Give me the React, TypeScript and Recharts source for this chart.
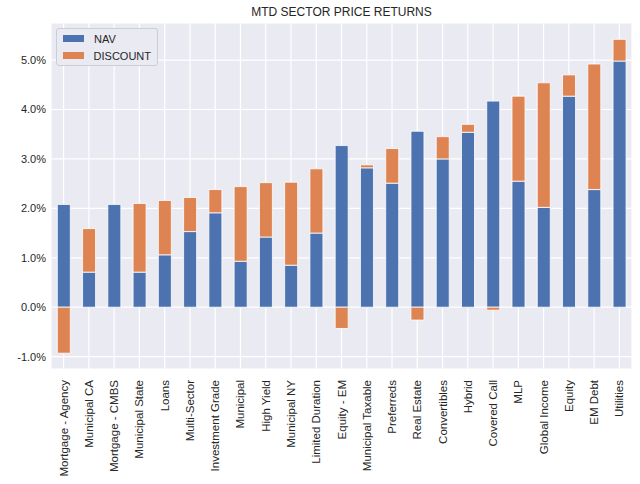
import { Bar, BarChart, CartesianGrid, XAxis, YAxis } from "recharts";

const sectors = [
  "Mortgage - Agency", "Municipal CA", "Mortgage - CMBS", "Municipal State", "Loans",
  "Multi-Sector", "Investment Grade", "Municipal", "High Yield", "Municipal NY",
  "Limited Duration", "Equity - EM", "Municipal Taxable", "Preferreds", "Real Estate",
  "Convertibles", "Hybrid", "Covered Call", "MLP", "Global Income", "Equity", "EM Debt", "Utilities",
];
const nav = [2.08, 0.71, 2.08, 0.71, 1.06, 1.53, 1.91, 0.93, 1.42, 0.85, 1.5, 3.27, 2.82, 2.51, 3.56, 3.0, 3.54, 4.17, 2.55, 2.02, 4.27, 2.38, 4.98];
const discount = [-0.93, 0.88, 0, 1.39, 1.1, 0.69, 0.47, 1.51, 1.1, 1.68, 1.3, -0.43, 0.06, 0.7, -0.26, 0.45, 0.16, -0.06, 1.72, 2.52, 0.43, 2.54, 0.44];
const yTicks = [-1, 0, 1, 2, 3, 4, 5];

const data = sectors.map((s, i) => ({ sector: s, nav: nav[i], discount: discount[i] }));

const BLUE = "#4C72B0";
const ORANGE = "#DD8452";
const TEXT = "#262626";

function SectorTick({ x, y, payload }: any) {
  return (
    <text transform={`translate(${x},${y}) rotate(-90)`} textAnchor="end" dy="0.35em" fontSize={11.5} fill={TEXT}>
      {payload.value}
    </text>
  );
}

// drawn over the plot, matplotlib-style "upper left" legend
function LegendBox() {
  const rows = [
    { name: "NAV", color: BLUE },
    { name: "DISCOUNT", color: ORANGE },
  ];
  return (
    <div style={{ position: "absolute", left: 56, top: 28, background: "#EAEAF2", border: "1px solid #CDCDD6", borderRadius: 3, padding: "1px 6px 1px 6px", width: 88 }}>
      {rows.map((r) => (
        <div key={r.name} style={{ display: "flex", alignItems: "center", height: 17, fontSize: 11, color: TEXT }}>
          <span style={{ display: "inline-block", width: 21, height: 7, background: r.color, marginRight: 10 }} />
          {r.name}
        </div>
      ))}
    </div>
  );
}

export default function App() {
  return (
    <div style={{ position: "absolute", left: 0, top: 0, width: 640, height: 484, background: "#fff", fontFamily: '"Liberation Sans", Arial, sans-serif' }}>
      <div style={{ position: "absolute", left: 51, width: 581, top: 5, textAlign: "center", fontSize: 12, color: TEXT }}>
        MTD SECTOR PRICE RETURNS
      </div>
      <BarChart width={640} height={484} data={data} stackOffset="sign" barCategoryGap="25%" margin={{ top: 23, right: 8, bottom: 0, left: 0 }}>
        <CartesianGrid fill="#EAEAF2" stroke="#fff" strokeWidth={1.2} />
        <XAxis dataKey="sector" interval={0} axisLine={false} tickLine={false} tickSize={0} tickMargin={11} height={115} tick={<SectorTick />} />
        <YAxis
          domain={[-1.25, 5.75]}
          ticks={yTicks}
          tickFormatter={(v: number) => `${v.toFixed(1)}%`}
          axisLine={false}
          tickLine={false}
          tickSize={0}
          tickMargin={5}
          width={51}
          fontSize={11}
          tick={{ fill: TEXT }}
        />
        <Bar dataKey="nav" name="NAV" stackId="a" fill={BLUE} stroke="#fff" strokeWidth={0.8} isAnimationActive={false} />
        <Bar dataKey="discount" name="DISCOUNT" stackId="a" fill={ORANGE} stroke="#fff" strokeWidth={0.8} isAnimationActive={false} />
      </BarChart>
      <LegendBox />
    </div>
  );
}
